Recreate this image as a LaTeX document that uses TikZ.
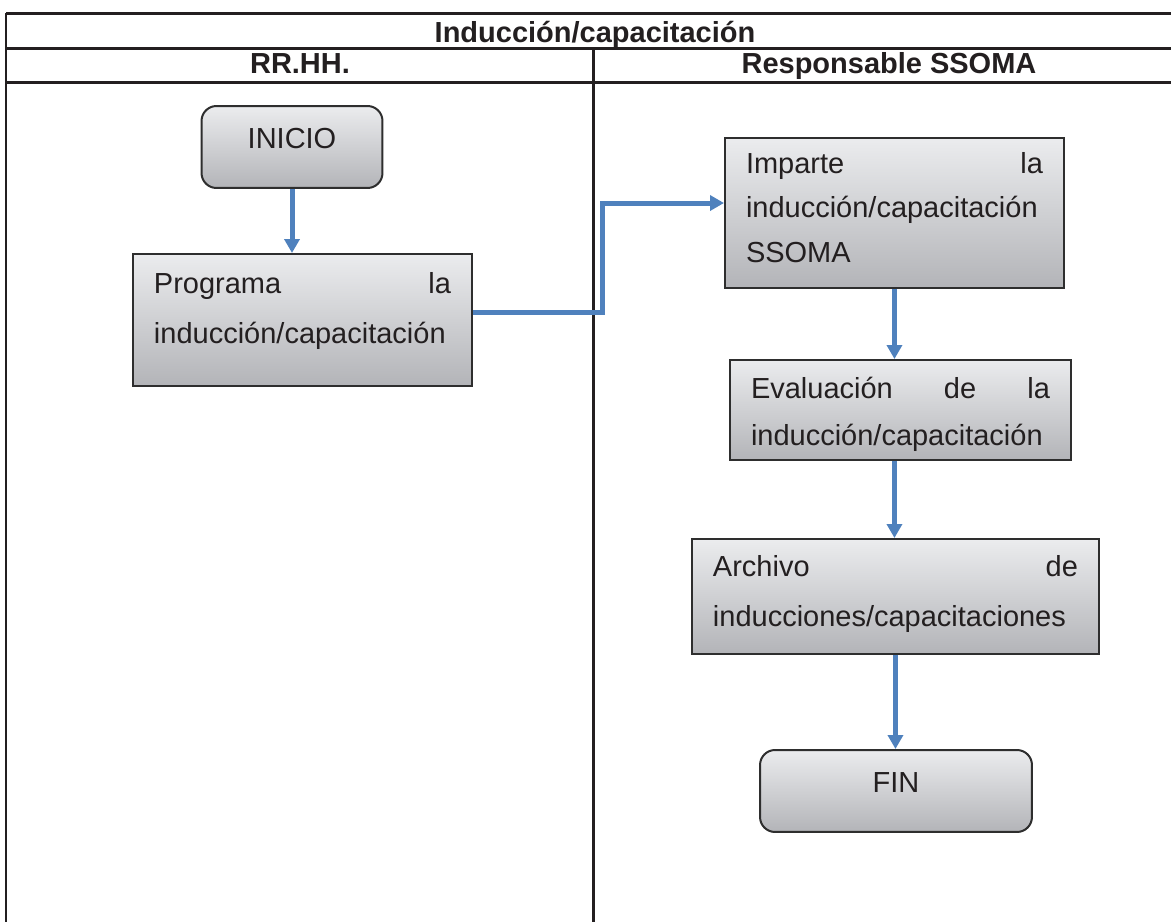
\documentclass[tikz,border=0pt]{standalone}
\usepackage{fontspec}
\setmainfont{Liberation Sans}
\usepackage{xcolor}
\usepackage{tikz}
\usetikzlibrary{arrows.meta, positioning, calc}
\definecolor{flowblue}{HTML}{4F81BD}
\definecolor{inkblack}{HTML}{231F20}
\definecolor{boxedge}{HTML}{2E2E2E}
\definecolor{boxtop}{HTML}{EBECEE}
\definecolor{boxbottom}{HTML}{B3B4B8}
\newcommand{\spread}{\hskip 0pt plus 1filll\relax}

\begin{document}
\begin{tikzpicture}[x=0.02cm, y=-0.02cm, font=\fontsize{16.5}{20}\selectfont, text=inkblack,
    >={Triangle[width=0.3cm, length=0.28cm]}]
    \tikzstyle{lane} = [line width=0.06cm, draw=inkblack]
    \tikzstyle{lanehead} = [anchor=base, font=\fontsize{16.5}{20}\selectfont\bfseries]
    \tikzstyle{terminal} = [rectangle, rounded corners=0.3cm, draw=boxedge, line width=0.04cm,
      top color=boxtop, bottom color=boxbottom, anchor=north, inner sep=0pt,
      text height=0.84cm, text depth=0.8cm]
    \tikzstyle{process} = [rectangle, draw=boxedge, line width=0.04cm, top color=boxtop,
      bottom color=boxbottom, anchor=north west, inner xsep=0.42cm, inner ysep=0pt, align=left]
    \tikzstyle{flow} = [->, line width=0.1cm, draw=flowblue]

    \useasboundingbox (0,0) rectangle (1171,921);

    % Swimlane frame
    \draw [lane] (6,13) -- (1190,13);
    \draw [lane] (6,48) -- (1190,48);
    \draw [lane] (6,82) -- (1190,82);
    \draw [lane] (6,13) -- (6,925);
    \draw [lane] (593,48) -- (593,925);

    \node (title) [lanehead] at (595,42) {Inducción/capacitación};
    \node (rrhh)  [lanehead] at (300,73) {RR.HH.};
    \node (ssoma) [lanehead] at (889,73) {Responsable SSOMA};

    % Layout: RR.HH. lane on the left, SSOMA column on the right
    \node (inicio)     [terminal, minimum width=3.62cm] at (292,105) {INICIO};
    \node (programa)   [process, text width=5.94cm, text height=0.78cm, text depth=1.86cm,
      font=\fontsize{16.5}{28.5}\selectfont] at (132,253)
      {Programa\spread{} la\\inducción/capacitación};
    \node (imparte)    [process, text width=5.94cm, text height=0.7cm, text depth=2.3cm,
      font=\fontsize{16.5}{25.6}\selectfont] at (724,137)
      {Imparte\spread{} la\\inducción/capacitación\\SSOMA};
    \node (evaluacion) [process, text width=5.98cm, text height=0.76cm, text depth=1.24cm,
      font=\fontsize{16.5}{27.3}\selectfont] at (729,359)
      {Evaluación\spread{} de\spread{} la\\inducción/capacitación};
    \node (archivo)    [process, text width=7.3cm, text height=0.74cm, text depth=1.56cm,
      font=\fontsize{16.5}{29}\selectfont] at (691,538)
      {Archivo\spread{} de\\inducciones/capacitaciones};
    \node (fin)        [terminal, minimum width=5.44cm] at (896,749) {FIN};

    % INICIO -> Programa
    \draw [flow] (inicio.south) -- (inicio.south |- programa.north);

    % Programa -> Imparte (crosses the lane border)
    \coordinate (bend) at (602,203);
    \draw [flow] ([yshift=0.14cm]programa.east) -| (bend) -- (bend -| imparte.west);

    % Imparte -> Evaluacion
    \draw [flow] (imparte.south) -- (imparte.south |- evaluacion.north);

    % Evaluacion -> Archivo
    \draw [flow] (imparte.south |- evaluacion.south) -- (imparte.south |- archivo.north);

    % Archivo -> FIN
    \draw [flow] (archivo.south) -- (archivo.south |- fin.north);
\end{tikzpicture}
\end{document}
